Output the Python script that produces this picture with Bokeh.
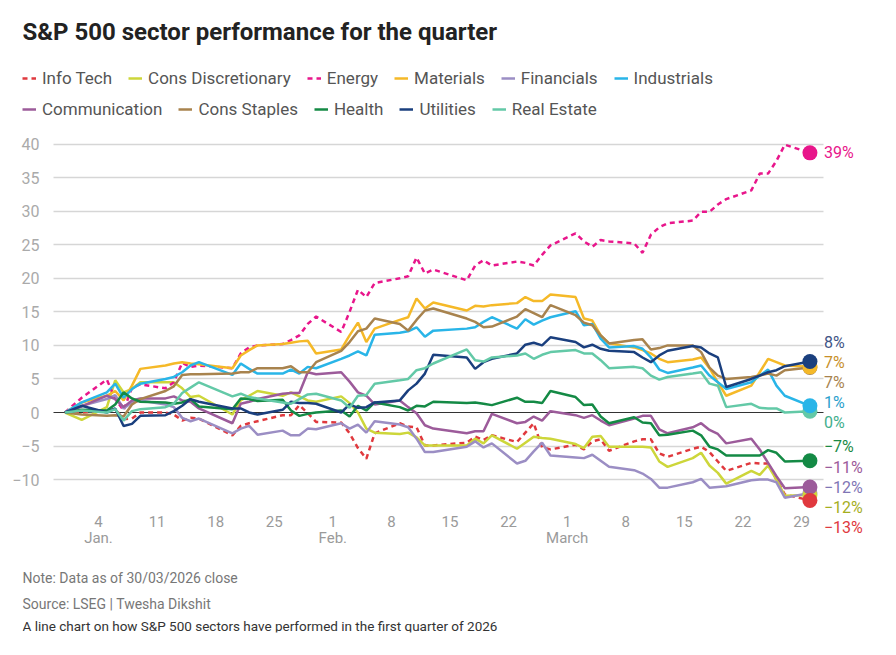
import pandas as pd
from bokeh.plotting import figure
from bokeh.models import (ColumnDataSource, Legend, LegendItem, Label, Grid,
                          FixedTicker, LabelSet, Range1d)
from bokeh.core.properties import value
from bokeh.embed import file_html
from bokeh.resources import INLINE

# ---------------- data ----------------
base_date = "2025-12-31"
holidays = ["2026-01-19", "2026-02-16"]
tick_dates = ["2026-01-04", "2026-01-11", "2026-01-18", "2026-01-25", "2026-02-01",
              "2026-02-08", "2026-02-15", "2026-02-22", "2026-03-01", "2026-03-08",
              "2026-03-15", "2026-03-22", "2026-03-29"]
month_dates = ["2026-01-04", "2026-02-01", "2026-03-01"]
month_labels = ["Jan.", "Feb.", "March"]
y_ticks = [-10, -5, 0, 5, 10, 15, 20, 25, 30, 35, 40]

names = ["Info Tech", "Cons Discretionary", "Energy", "Materials", "Financials", "Industrials",
         "Communication", "Cons Staples", "Health", "Utilities", "Real Estate"]

info_tech = [0, 0.0, 0.3, 0.5, -1.0, -0.9, 0.0, 0.0, -0.3, -1.2, -0.8, -0.9,
             -3.4, -2.0, -1.6, -1.3, -0.4, -0.4, 1.1, -0.1, -1.4,
             -1.5, -3.1, -5.3, -6.9, -3.1, -1.6, -2.1, -2.2, -4.9, -4.9,
             -4.5, -3.6, -4.1, -3.4, -4.4, -3.0, -1.6, -5.2, -5.5,
             -4.8, -5.5, -4.3, -4.0, -5.7, -4.3, -4.0, -4.0, -6.1, -6.6,
             -5.4, -5.1, -5.9, -7.3, -8.7, -7.5, -7.6, -7.6, -10.0, -12.2, -13.1]
cons_disc = [0, -1.1, 0.8, 4.8, 3.0, 3.5, 4.5, 4.5, 4.5, 3.6, 2.3, 2.5,
             -0.3, 1.8, 2.5, 3.2, 2.5, 3.0, 2.4, 1.8, 1.6,
             2.4, 1.4, 0.0, -2.4, -3.0, -3.2, -3.0, -3.7, -4.9, -4.9,
             -4.9, -3.9, -4.6, -3.4, -5.4, -4.5, -3.6, -3.8, -3.9,
             -4.7, -5.3, -3.6, -3.5, -5.1, -5.1, -5.1, -5.2, -7.3, -8.1,
             -6.8, -6.0, -7.9, -9.0, -10.6, -8.7, -9.3, -7.9, -10.0, -12.4, -12.3]
energy = [0, 2.2, 4.9, 2.0, 0.3, 3.7, 4.2, 3.6, 4.5, 7.4, 6.8, 7.0,
          6.6, 8.8, 9.7, 10.0, 10.2, 10.8, 11.5, 13.2, 14.3,
          12.0, 15.0, 18.3, 17.2, 19.3, 20.0, 20.3, 23.1, 20.7, 21.3,
          19.7, 21.9, 22.7, 21.9, 22.5, 22.3, 21.9, 23.5, 24.9,
          26.7, 25.5, 24.7, 25.7, 25.5, 25.2, 23.8, 26.5, 27.6, 28.2,
          28.6, 29.9, 29.9, 31.0, 31.8, 33.1, 35.6, 35.6, 37.5, 39.9, 38.7]
materials = [0, 1.5, 2.5, 3.2, 1.8, 4.0, 6.5, 7.0, 7.3, 7.5, 7.3, 7.2,
             6.6, 8.5, 9.3, 10.0, 10.2, 10.4, 10.6, 10.7, 8.8,
             9.4, 11.5, 13.4, 10.5, 12.5, 13.8, 14.2, 17.0, 15.5, 16.4,
             15.2, 15.9, 15.8, 16.0, 16.3, 17.2, 16.6, 16.6, 17.6,
             17.2, 14.0, 13.7, 11.5, 10.3, 9.7, 9.3, 8.8, 8.0, 7.5,
             7.9, 8.2, 6.6, 4.5, 2.5, 4.0, 6.0, 8.0, 7.5, 7.0, 6.8]
financials = [0, 1.0, 2.0, 2.6, 0.6, 1.5, 1.8, 1.2, 0.8, -0.8, -1.3, -0.9,
              -3.1, -2.4, -2.0, -3.3, -2.7, -3.4, -3.4, -2.4, -2.5,
              -1.6, -2.4, -1.8, -3.0, -1.3, -1.8, -2.2, -3.9, -5.9, -5.9,
              -5.1, -4.3, -5.2, -4.6, -7.6, -7.2, -5.8, -4.5, -6.4,
              -6.7, -6.8, -6.3, -7.2, -8.1, -8.6, -9.1, -9.9, -11.2, -11.2,
              -10.4, -9.9, -11.2, -11.1, -11.0, -10.1, -10.0, -10.0, -10.4, -12.7, -12.0]
industrials = [0, 1.5, 3.0, 4.3, 2.2, 3.5, 4.3, 5.0, 5.3, 6.0, 7.0, 7.5,
               5.6, 7.3, 6.5, 5.8, 5.8, 6.4, 5.8, 6.8, 6.6,
               8.0, 8.5, 9.1, 8.5, 11.6, 11.9, 12.1, 12.7, 11.3, 12.2,
               12.5, 12.7, 13.5, 14.2, 12.5, 13.9, 13.1, 13.7, 14.2,
               15.1, 13.0, 13.2, 11.0, 9.7, 9.9, 9.5, 8.2, 6.4, 5.9,
               6.7, 7.0, 5.5, 4.5, 3.5, 4.5, 5.5, 6.4, 4.0, 2.5, 1.0]
communication = [0, 0.9, 2.5, 2.0, 0.8, 1.8, 2.1, 2.1, 2.4, 1.8, 1.6, 0.6,
                 -1.6, 1.3, 1.6, 2.0, 2.8, 2.9, 2.9, 6.0, 5.7,
                 6.0, 4.6, 3.0, 2.5, 1.2, 1.8, 0.8, -0.1, -1.9, -2.4,
                 -3.1, -2.8, -2.8, -0.2, -1.6, -1.4, -0.6, -1.2, 0.2,
                 -0.4, -0.8, -0.4, -1.2, -1.9, -0.9, -0.5, -0.5, -2.5, -3.1,
                 -2.2, -1.6, -2.6, -3.2, -4.6, -3.9, -5.5, -7.5, -9.5, -11.3, -11.1]
cons_staples = [0, -0.3, -0.5, -0.4, -0.6, 1.2, 2.0, 3.2, 3.9, 5.6, 5.7, 5.7,
                5.8, 6.0, 6.0, 6.6, 6.6, 6.9, 6.0, 6.0, 7.5,
                9.2, 10.5, 12.1, 12.5, 14.0, 13.2, 12.2, 13.8, 15.2, 15.5,
                14.0, 13.5, 12.7, 12.8, 14.3, 15.4, 14.8, 14.2, 16.0,
                14.5, 13.4, 13.0, 11.5, 10.3, 10.8, 10.9, 9.4, 9.6, 10.0,
                10.0, 9.0, 6.7, 5.5, 5.0, 5.3, 5.5, 5.8, 5.5, 6.3, 6.7]
health = [0, 0.4, 0.3, 1.2, 3.0, 2.1, 1.6, 1.5, 1.3, 1.5, 2.0, 0.9,
          0.5, 2.1, 2.0, 1.7, 1.9, 0.3, -0.5, -0.2, 0.0,
          0.3, -0.6, 1.0, 0.3, 1.5, 0.8, 0.3, 1.0, 0.9, 1.6,
          1.4, 1.5, 1.3, 1.1, 2.2, 1.6, 1.6, 1.4, 3.2,
          2.3, 1.1, 1.2, -0.6, -1.6, -0.7, -1.5, -1.6, -3.4, -3.3,
          -2.7, -3.4, -5.1, -5.5, -6.4, -6.4, -6.4, -5.6, -6.0, -7.3, -7.2]
utilities = [0, 1.0, 0.0, 0.6, -2.0, -1.7, -0.5, -0.4, 0.2, 1.0, 2.0, 1.6,
             0.6, 0.6, 0.0, -0.3, 0.4, 1.6, 1.4, 1.4, 1.3,
             0.0, 1.2, 0.7, 0.8, 1.5, 1.8, 3.3, 4.3, 5.8, 8.6,
             8.2, 6.5, 7.5, 8.0, 8.8, 10.1, 10.4, 10.0, 11.2,
             10.5, 9.7, 10.1, 9.5, 9.2, 9.0, 8.2, 7.5, 8.5, 9.2,
             9.9, 9.7, 8.8, 8.2, 3.8, 5.0, 5.5, 6.0, 6.3, 6.9, 7.6]
real_estate = [0, 0.3, 0.0, 0.5, -1.2, 0.2, 0.5, 0.8, 1.3, 2.9, 3.7, 4.5,
               2.4, 2.8, 2.3, 2.1, 1.5, 1.3, 2.0, 2.7, 2.8,
               1.8, 0.7, 2.5, 2.6, 4.3, 4.8, 5.0, 6.3, 6.6, 7.3,
               9.4, 7.8, 7.6, 8.2, 8.5, 8.8, 8.0, 8.6, 9.0,
               9.3, 8.8, 8.8, 7.8, 6.6, 6.8, 6.6, 5.5, 4.9, 5.3,
               5.8, 6.0, 4.3, 4.0, 0.8, 1.3, 0.7, 0.6, 0.6, 0.0, 0.2]

series = [info_tech, cons_disc, energy, materials, financials, industrials,
          communication, cons_staples, health, utilities, real_estate]

title_text = "S&P 500 sector performance for the quarter"
notes = ["Note: Data as of 30/03/2026 close",
         "Source: LSEG | Twesha Dikshit",
         "A line chart on how S&P 500 sectors have performed in the first quarter of 2026"]

# ---------------- styles ----------------
line_colors = ["#e0393e", "#cdd63a", "#e8168b", "#f5b928", "#9b8ec4", "#29b5e8",
               "#9c5b9a", "#a8834e", "#148a45", "#1a3f7e", "#63c9a7"]
label_colors = ["#e0393e", "#a5ae1e", "#e8168b", "#c8902a", "#7f75b5", "#2aa0cc",
                "#9c5b9a", "#a8834e", "#1b8a45", "#3f5585", "#3fae8c"]
dashes = ["5 4", "solid", "5 4", "solid", "solid", "solid",
          "solid", "solid", "solid", "solid", "solid"]
dot_order = ["Real Estate", "Cons Staples", "Materials", "Financials", "Cons Discretionary",
             "Health", "Industrials", "Utilities", "Communication", "Info Tech", "Energy"]

FONT = "Roboto"
GRAY = "#9a9a9a"

# page geometry (pixels)
W, H = 880, 653
FRAME_L, FRAME_B = 22, 632          # frame spans x 22..880, y 0..632
AXIS_H = H - FRAME_B
X_ZERO_PX, PX_PER_DAY = 64.5, 8.37  # where day 0 sits, horizontal scale
Y_ZERO_PX, PX_PER_UNIT = 412.0, 6.71
GRID_L_PX, GRID_R_PX = 53, 823
AXIS_LINE_PX = 506

def x_at(px):
    return (px - X_ZERO_PX) / PX_PER_DAY

def y_at(py):
    return (Y_ZERO_PX - py) / PX_PER_UNIT

def sy(py):  # screen y measured up from frame bottom
    return FRAME_B - py

# ---------------- derived x positions ----------------
base = pd.Timestamp(base_date)
trading_days = [base] + [d for d in pd.bdate_range("2026-01-02", "2026-03-30")
                         if d.strftime("%Y-%m-%d") not in holidays]
xs = [(d - base).days for d in trading_days]
tick_pos = [(pd.Timestamp(t) - base).days for t in tick_dates]
tick_text = {pos: str(pd.Timestamp(t).day) for pos, t in zip(tick_pos, tick_dates)}
month_pos = [(pd.Timestamp(t) - base).days for t in month_dates]

# ---------------- figure ----------------
p = figure(width=W, height=H,
           x_range=Range1d(x_at(FRAME_L), x_at(W)), y_range=Range1d(y_at(FRAME_B), y_at(0)),
           output_backend="svg", toolbar_location=None,
           min_border_left=FRAME_L, min_border_right=0,
           min_border_top=0, min_border_bottom=AXIS_H)
p.outline_line_color = None
p.xgrid.grid_line_color = None
p.ygrid.grid_line_color = None

# y axis: labels pulled right so they sit just left of the grid lines
p.yaxis.ticker = FixedTicker(ticks=y_ticks)
p.yaxis.major_label_overrides = {-10: "\u221210", -5: "\u22125"}
p.yaxis.axis_line_color = None
p.yaxis.major_tick_line_color = None
p.yaxis.minor_tick_line_color = None
p.yaxis.major_label_text_font = FONT
p.yaxis.major_label_text_font_size = "16px"
p.yaxis.major_label_text_color = "#aaaaaa"
p.yaxis.major_label_standoff = -(GRID_L_PX - 8 - FRAME_L)

grid = Grid(dimension=1, ticker=FixedTicker(ticks=[t for t in y_ticks if t != 0]),
            cross_bounds=(x_at(GRID_L_PX), x_at(GRID_R_PX)),
            grid_line_color="#d6d6d6", grid_line_width=1.5)
zero = Grid(dimension=1, ticker=FixedTicker(ticks=[0]),
            cross_bounds=(x_at(GRID_L_PX), x_at(GRID_R_PX)),
            grid_line_color="#333333", grid_line_width=1)
p.add_layout(grid)

# x axis drawn at the bottom of the data area
p.xaxis.fixed_location = y_at(AXIS_LINE_PX)
p.xaxis.ticker = FixedTicker(ticks=tick_pos)
p.xaxis.major_label_overrides = tick_text
p.xaxis.axis_line_color = None
p.xaxis.major_tick_line_color = None
p.xaxis.minor_tick_line_color = None
p.xaxis.major_label_text_font = FONT
p.xaxis.major_label_text_font_size = "15px"
p.xaxis.major_label_text_color = GRAY
p.xaxis.major_label_standoff = 3

month_src = ColumnDataSource(dict(x=month_pos, t=month_labels))
p.add_layout(LabelSet(x="x", y=sy(537), y_units="screen", text="t", source=month_src,
                      text_font=value(FONT), text_font_size=value("15px"),
                      text_color=GRAY, text_align="center", text_baseline="middle"))

renderers = {}
for name, vals, col, dash in zip(names, series, line_colors, dashes):
    src = ColumnDataSource(dict(x=xs, y=vals))
    renderers[name] = p.line("x", "y", source=src, line_color=col, line_width=2.5,
                             line_dash=dash)
p.add_layout(zero)

# end dots
idx = [names.index(n) for n in dot_order]
dot_src = ColumnDataSource(dict(x=[xs[-1]] * len(idx), y=[series[i][-1] for i in idx],
                                c=[line_colors[i] for i in idx]))
p.scatter("x", "y", source=dot_src, size=15, fill_color="c", line_color=None)

# end labels with simple collision avoidance
finals = [s[-1] for s in series]
gap = 3.0
order = sorted(range(len(finals)), key=lambda i: -finals[i])
clusters = [[i] for i in order]

def cluster_pos(cl):
    c = sum(finals[i] for i in cl) / len(cl)
    return [c + gap * ((len(cl) - 1) / 2 - j) for j in range(len(cl))]

changed = True
while changed:
    changed = False
    for k in range(len(clusters) - 1):
        a, b = cluster_pos(clusters[k]), cluster_pos(clusters[k + 1])
        if a[-1] - b[0] < gap - 1e-9:
            clusters[k] = clusters[k] + clusters[k + 1]
            del clusters[k + 1]
            changed = True
            break
label_y = [0.0] * len(finals)
for cl in clusters:
    for i, y in zip(cl, cluster_pos(cl)):
        label_y[i] = y

def fmt(v):
    r = int(round(v))
    return ("\u2212" if r < 0 else "") + f"{abs(r)}%"

lab_src = ColumnDataSource(dict(x=[xs[-1]] * len(finals), y=label_y,
                                t=[fmt(v) for v in finals], c=label_colors))
p.add_layout(LabelSet(x="x", y="y", text="t", source=lab_src, x_offset=14,
                      text_color="c", text_font=value(FONT), text_font_size=value("16px"),
                      text_baseline="middle", text_align="left"))

# ---------------- title, legend, notes ----------------
p.add_layout(Label(x=0, y=sy(31), x_units="screen", y_units="screen",
                   text=title_text, text_font=FONT, text_font_size="24px",
                   text_font_style="bold", text_color="#222222",
                   text_baseline="middle", text_align="left"))

def make_legend(row, center_py):
    return Legend(items=[LegendItem(label=n, renderers=[renderers[n]]) for n in row],
                  orientation="horizontal", location=(0, sy(center_py + 10)),
                  label_text_font=FONT, label_text_font_size="17px",
                  label_text_color="#555555",
                  glyph_width=14, glyph_height=16, label_standoff=6, spacing=16,
                  label_height=20, padding=0, margin=0, border_line_color=None,
                  background_fill_alpha=0)

p.add_layout(make_legend(names[:6], 78))
p.add_layout(make_legend(names[6:], 109))

note_py = [577, 603, 625]
note_size = ["14px", "14px", "13.5px"]
note_color = ["#777777", "#777777", "#333333"]
for text, py, size, col in zip(notes, note_py, note_size, note_color):
    p.add_layout(Label(x=0, y=sy(py), x_units="screen", y_units="screen", text=text,
                       text_font=FONT, text_font_size=size, text_color=col,
                       text_baseline="middle", text_align="left"))

open("out.html", "w").write(file_html(p, INLINE))
